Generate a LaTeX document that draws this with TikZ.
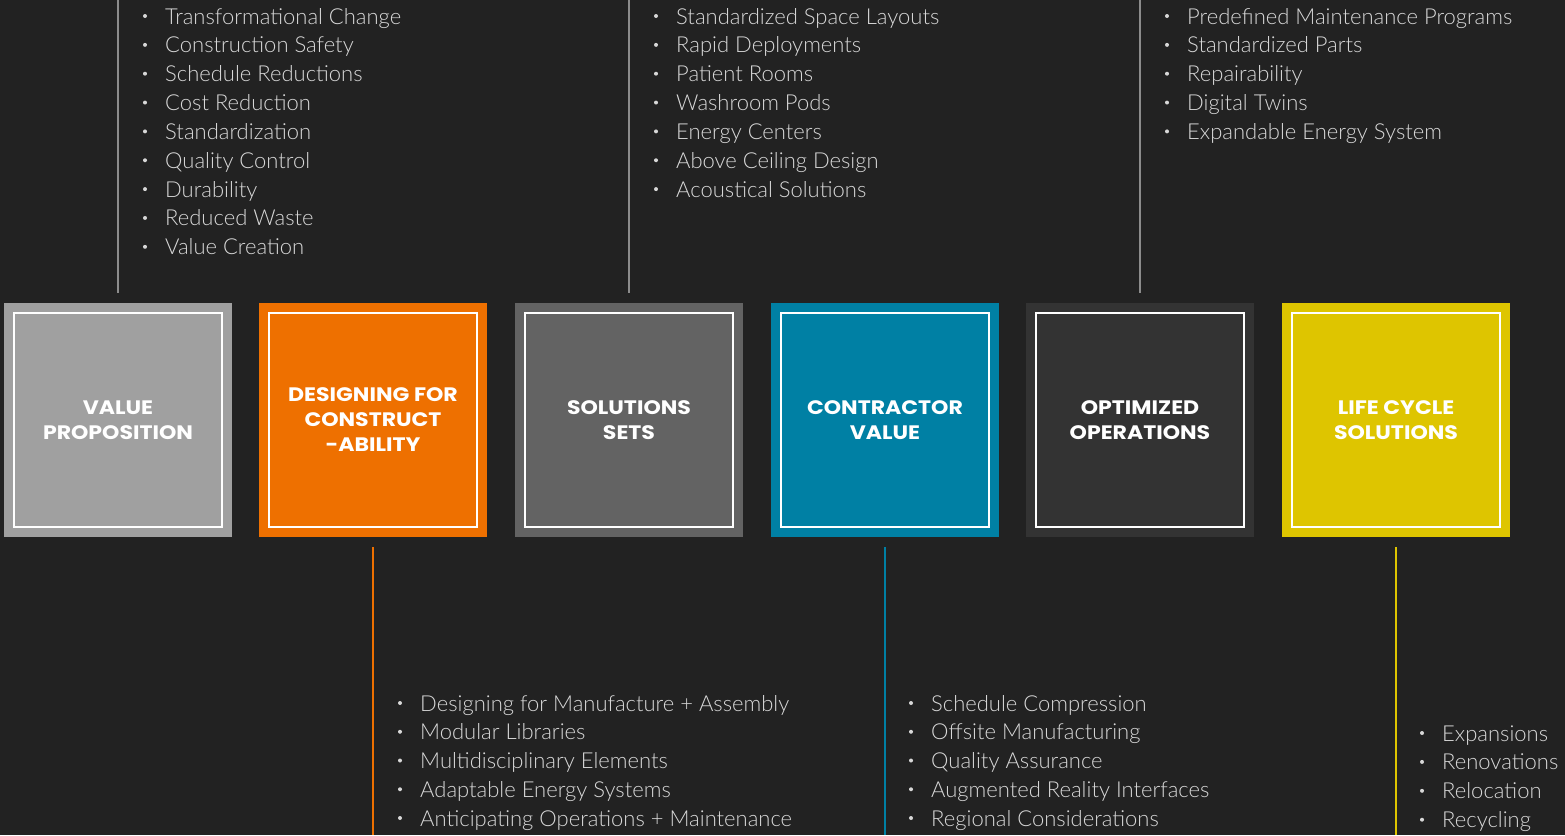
\documentclass[tikz,border=0pt]{standalone}
\usepackage{fontspec}
\setmainfont{Lato Light}
\newfontfamily\headfont{Poppins}[FakeStretch=1.13]
\definecolor{bg}{HTML}{222222}
\definecolor{txt}{HTML}{D8D8D8}
\definecolor{cA}{HTML}{A0A0A0}
\definecolor{cB}{HTML}{EE7000}
\definecolor{cC}{HTML}{636363}
\definecolor{cD}{HTML}{0080A4}
\definecolor{cE}{HTML}{333333}
\definecolor{cF}{HTML}{DEC500}
\definecolor{lineg}{HTML}{8C8C8C}
\tikzset{
  tile/.style={minimum width=228pt, minimum height=234pt, inner sep=0pt, draw=none,
    align=center, text=white, font=\headfont\bfseries\fontsize{19.5}{25}\selectfont},
  frame/.style={draw=white, line width=2pt},
  conn/.style={line width=2.5pt},
  item/.style={anchor=base west, text=txt, inner sep=0pt, font=\fontsize{22}{24}\selectfont},
  dot/.style={circle, fill=txt, inner sep=0pt, minimum size=4pt}
}
\newcommand{\bulletlist}[4]{% x, y0, step, items
  \foreach \t [count=\i from 0] in {#4} {
    \node[dot] at (#1,#2+\i*#3) {};
    \node[item] at (#1+20,#2+8+\i*#3) {\t};
  }}
\begin{document}
\begin{tikzpicture}[x=1pt,y=-1pt]
\fill[bg] (0,0) rectangle (1565,835);
\useasboundingbox (0,0) rectangle (1565,835);

\foreach \n/\cx/\col/\lab in {a/118/cA/{VALUE\\PROPOSITION},
  b/373/cB/{DESIGNING FOR\\CONSTRUCT\\-ABILITY},
  c/629/cC/{SOLUTIONS\\SETS},
  d/885/cD/{CONTRACTOR\\VALUE},
  e/1140/cE/{OPTIMIZED\\OPERATIONS},
  f/1396/cF/{LIFE CYCLE\\SOLUTIONS}} {
  \node[tile, fill=\col] (\n) at (\cx,420) {\lab};
  \draw[frame] ([shift={(10pt,-10pt)}]\n.north west) rectangle ([shift={(-10pt,10pt)}]\n.south east);
}

% connectors
\coordinate (ta) at (118,0); \coordinate (tc) at (629,0); \coordinate (te) at (1140,0);
\coordinate (bb) at (373,835); \coordinate (bd) at (885,835); \coordinate (bf) at (1396,835);
\draw[conn, lineg] ([yshift=10pt]a.north) -- (ta);
\draw[conn, lineg] ([yshift=10pt]c.north) -- (tc);
\draw[conn, lineg] ([yshift=10pt]e.north) -- (te);
\draw[conn, cB] ([yshift=-10pt]b.south) -- (bb);
\draw[conn, cD] ([yshift=-10pt]d.south) -- (bd);
\draw[conn, cF] ([yshift=-10pt]f.south) -- (bf);

\bulletlist{145}{16}{28.85}{Transformational Change,Construction Safety,Schedule Reductions,Cost Reduction,Standardization,Quality Control,Durability,Reduced Waste,Value Creation}
\bulletlist{656}{16}{28.85}{Standardized Space Layouts,Rapid Deployments,Patient Rooms,Washroom Pods,Energy Centers,Above Ceiling Design,Acoustical Solutions}
\bulletlist{1167}{16}{28.85}{Predefined Maintenance Programs,Standardized Parts,Repairability,Digital Twins,Expandable Energy System}
\bulletlist{400}{703}{28.75}{Designing for Manufacture + Assembly,Modular Libraries,Multidisciplinary Elements,Adaptable Energy Systems,Anticipating Operations + Maintenance}
\bulletlist{911}{703}{28.75}{Schedule Compression,Offsite Manufacturing,Quality Assurance,Augmented Reality Interfaces,Regional Considerations}
\bulletlist{1422}{733}{28.9}{Expansions,Renovations,Relocation,Recycling}
\end{tikzpicture}
\end{document}
